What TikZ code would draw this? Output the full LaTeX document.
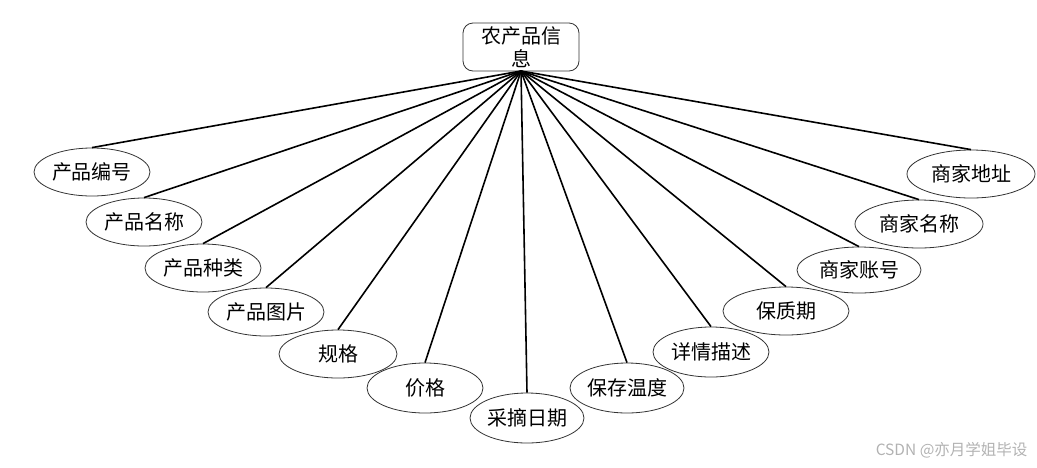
\documentclass[tikz,border=0pt]{standalone}
\usepackage{fontspec}
\setmainfont{Noto Sans CJK SC}
\newfontfamily\wmfont{Noto Sans CJK SC}
\usetikzlibrary{shapes.geometric}
\begin{document}
\begin{tikzpicture}[x=1pt,y=-1pt,
  attr/.style={ellipse,draw=black!80,line width=0.8pt,inner sep=0pt,
    font=\fontsize{20}{22}\selectfont,fill=white},
  link/.style={line width=1.6pt,black},
  ent/.style={draw=black!80,line width=0.8pt,rounded corners=10pt,
    minimum width=116pt,minimum height=48pt,inner sep=0pt,align=center,
    font=\fontsize{20}{23}\selectfont}]
\useasboundingbox (0,0) rectangle (1037,467);
\node[ent] (top) at (521,47) {农产品信\\息};
\coordinate (hub) at (521,71);
\node[attr,minimum width=116pt,minimum height=48pt] (a1) at (92,172) {产品编号};
\node[attr,minimum width=116pt,minimum height=48pt] (a2) at (144,222) {产品名称};
\node[attr,minimum width=116pt,minimum height=48pt] (a3) at (203,268) {产品种类};
\node[attr,minimum width=116pt,minimum height=48pt] (a4) at (266,312) {产品图片};
\node[attr,minimum width=118pt,minimum height=48pt] (a5) at (338,354) {规格};
\node[attr,minimum width=116pt,minimum height=50pt] (a6) at (425,388) {价格};
\node[attr,minimum width=114pt,minimum height=50pt] (a7) at (527,418) {采摘日期};
\node[attr,minimum width=114pt,minimum height=50pt] (a8) at (627,388) {保存温度};
\node[attr,minimum width=116pt,minimum height=50pt] (a9) at (711,352) {详情描述};
\node[attr,minimum width=126pt,minimum height=48pt] (a10) at (786,311) {保质期};
\node[attr,minimum width=124pt,minimum height=46pt] (a11) at (859,270) {商家账号};
\node[attr,minimum width=128pt,minimum height=48pt] (a12) at (919,224) {商家名称};
\node[attr,minimum width=128pt,minimum height=48pt] (a13) at (971,174) {商家地址};
\foreach \n in {a1,a2,a3,a4,a5,a6,a7,a8,a9,a10,a11,a12,a13}
  \draw[link] (hub) -- (\n.north);
\node[font=\wmfont\fontsize{15.5}{17}\selectfont,text=black!30,anchor=east] (wm) at (1031,450) {CSDN @亦月学姐毕设};
\end{tikzpicture}
\end{document}
